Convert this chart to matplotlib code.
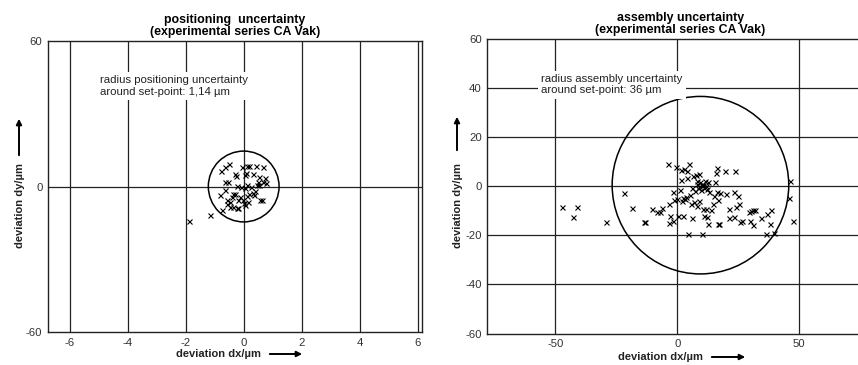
import matplotlib
matplotlib.use("Agg")
from matplotlib import pyplot as plt
from matplotlib.patches import Ellipse, Circle, FancyArrowPatch

plt.rcParams['font.family'] = ['Liberation Sans', 'DejaVu Sans']
plt.rcParams['axes.unicode_minus'] = False

# left panel: positioning uncertainty
pos_dx = [-1.87, -1.16, -0.78, -0.74, -0.82, -0.63, -0.52, -0.63, -0.54, -0.63,
          -0.59, -0.59, -0.47, -0.41, -0.38, -0.36, -0.30, -0.26, -0.22, -0.18,
          -0.18, -0.13, -0.09, -0.05, -0.01, 0.02, 0.05, 0.05, 0.08, 0.10,
          0.13, 0.16, 0.17, 0.20, 0.25, 0.31, 0.33, 0.40, 0.41, 0.47,
          0.51, 0.54, 0.54, 0.56, 0.62, 0.66, 0.68, 0.74, 0.77, -0.30,
          -0.47, -0.22, 0.05, 0.10, 0.36]
pos_dy = [-14.3, -11.8, 6.5, -9.8, -3.6, 8.1, 9.1, 1.9, 1.9, -1.5,
          -5.4, -7.3, -6.3, -4.5, -8.4, -2.9, 5.1, 4.4, 0.4, -5.4,
          -8.7, -4.3, -0.1, 8.1, -5.6, -7.0, -7.7, 4.7, 5.4, 8.5,
          0.6, -6.3, 8.5, -2.9, -0.4, 5.1, -2.6, -1.9, 8.5, 0.6,
          1.9, 4.0, 0.8, -5.4, -5.6, 8.1, 1.9, 3.3, 1.5, -2.9,
          -8.4, -8.8, -0.8, -4.0, -3.6]
pos_radius = (1.22, 14.6)   # drawn circle, in x / y axis units

# right panel: assembly uncertainty
asm_dx = [-47.4, -42.9, -41.3, -29.4, -21.9, -18.7, -13.8, -13.1, -10.2, -8.2,
          -7.1, -6.4, -3.7, -3.3, -3.0, -3.6, -1.9, -1.6, -1.2, -0.5,
          0.0, 0.4, 1.1, 1.4, 1.4, 2.0, 2.5, 2.7, 3.0, 3.8,
          4.1, 4.4, 4.8, 5.3, 5.6, 5.9, 6.6, 6.8, 7.4, 7.7,
          7.9, 7.9, 8.3, 8.7, 8.9, 9.3, 9.6, 10.0, 10.2, 10.4,
          10.7, 10.9, 11.3, 11.6, 11.7, 12.2, 12.4, 12.7, 13.1, 13.8,
          14.5, 14.9, 15.6, 15.7, 16.1, 16.1, 16.5, 16.9, 17.2, 17.5,
          19.5, 19.8, 21.4, 21.4, 23.2, 23.4, 23.6, 23.9, 25.0, 25.4,
          25.7, 26.4, 29.4, 29.8, 30.2, 30.9, 31.1, 31.8, 34.2, 36.3,
          36.9, 38.0, 38.4, 39.6, 45.8, 46.4, 47.5, 9.0, 10.3, 11.0,
          6.0, 8.0, 12.0, 3.5, 2.2]
asm_dy = [-8.4, -12.6, -8.4, -14.7, -2.7, -9.0, -14.7, -14.7, -9.4, -10.4,
          -10.6, -9.0, 9.2, -7.1, -11.9, -14.9, -14.0, -2.4, -5.4, 8.1,
          -5.0, -11.9, -1.6, 6.8, 2.7, -6.0, -12.2, 7.1, -5.2, 6.1,
          3.5, -19.4, 9.0, -3.4, -7.1, -12.9, 4.1, -6.4, -1.9, 4.7,
          2.0, -7.9, -0.8, 4.9, -5.8, 1.6, -1.4, 0.7, -19.4, -9.2,
          0.7, -12.2, 2.0, 0.0, -9.2, -12.6, -15.2, 1.6, -2.4, -9.5,
          -7.1, -4.1, 1.6, 5.4, 7.7, -2.4, -15.2, -5.4, -15.2, -2.7,
          6.4, -3.0, -9.2, -12.9, -2.4, -12.5, 6.4, -8.4, -4.1, -7.2,
          -14.7, -14.2, -10.6, -14.0, -10.2, -9.5, -15.6, -9.5, -12.9, -19.4,
          -11.3, -15.5, -9.5, -19.0, -4.7, 2.0, -14.0, 0.3, 1.0, -0.5,
          -0.8, 0.9, -1.0, -4.5, -4.8]
asm_center = (9.5, 0.5)
asm_radius = 36.2

line_col = '#222222'
fs = 8.2

fig = plt.figure(figsize=(8.58, 3.65), dpi=100)
ax1 = fig.add_axes([48/858, 1 - 332/365, 374/858, 291/365])
ax2 = fig.add_axes([487.3/858, 1 - 333.5/365, 1 - 487.3/858, 294.2/365])

# ---- left
ax1.set_xlim(-6.75, 6.15)
ax1.set_ylim(-60, 60)
ax1.set_xticks([-6, -4, -2, 0, 2, 4, 6])
ax1.set_yticks([-60, 0, 60])
for xv in [-6, -4, -2, 0, 2, 4, 6]:
    ax1.axvline(xv, color=line_col, lw=0.9, zorder=1)
ax1.axhline(0, color=line_col, lw=0.9, zorder=1)
ax1.add_patch(Ellipse((0, 0), 2*pos_radius[0], 2*pos_radius[1], fill=False,
                      ec='black', lw=1.1, zorder=3))
ax1.plot(pos_dx, pos_dy, 'x', color='black', ms=3.6, mew=0.8, zorder=4)
ax1.text(-4.97, 45.8, 'radius positioning uncertainty\naround set-point: 1,14 µm',
         fontsize=fs, va='top', ha='left', linespacing=1.15, zorder=5,
         color='#222222', bbox=dict(facecolor='white', edgecolor='none', pad=2.5))
ax1.set_title('positioning  uncertainty\n(experimental series CA Vak)',
              fontsize=8.9, fontweight='bold', pad=4.5, linespacing=1.0)

# ---- right
ax2.set_xlim(-77.9, 74.1)
ax2.set_ylim(-60, 60)
ax2.set_xticks([-50, 0, 50])
ax2.set_yticks([-60, -40, -20, 0, 20, 40, 60])
for xv in [-50, 0, 50]:
    ax2.axvline(xv, color=line_col, lw=0.9, zorder=1)
for yv in [-40, -20, 0, 20, 40]:
    ax2.axhline(yv, color=line_col, lw=0.9, zorder=1)
ax2.add_patch(Circle(asm_center, asm_radius, fill=False, ec='black', lw=1.1, zorder=3))
ax2.plot(asm_dx, asm_dy, 'x', color='black', ms=3.6, mew=0.8, zorder=4)
ax2.text(-55.9, 45.8, 'radius assembly uncertainty\naround set-point: 36 µm',
         fontsize=fs, va='top', ha='left', linespacing=1.15, zorder=5,
         color='#222222', bbox=dict(facecolor='white', edgecolor='none', pad=2.5))
ax2.set_title('assembly uncertainty\n(experimental series CA Vak)',
              fontsize=8.9, fontweight='bold', pad=4.5, linespacing=1.0, x=0.52)
ax2.spines['right'].set_visible(False)

for ax in (ax1, ax2):
    ax.tick_params(length=0, labelsize=fs, pad=4, colors='#333333')
    for s in ax.spines.values():
        s.set_color(line_col)
        s.set_linewidth(1.0)

# axis labels with arrows
lab = dict(fontsize=8.0, fontweight='bold', color='#222222')
fig.text(218/858, 1 - 354/365, 'deviation dx/µm', ha='center', va='center', **lab)
fig.text(661/858, 1 - 357/365, 'deviation dx/µm', ha='center', va='center', **lab)
fig.text(20/858, 1 - 205/365, 'deviation dy/µm', ha='center', va='center', rotation=90, **lab)
fig.text(458/858, 1 - 205/365, 'deviation dy/µm', ha='center', va='center', rotation=90, **lab)
arrow = dict(arrowstyle='-|>', color='black', lw=1.4, mutation_scale=8)
for (x0, y0, x1, y1) in [(267, 354, 305, 354), (709, 357, 748, 357),
                         (19, 158, 19, 116), (457, 153, 457, 114)]:
    fig.add_artist(FancyArrowPatch((x0/858, 1 - y0/365), (x1/858, 1 - y1/365),
                                   transform=fig.transFigure, **arrow))

fig.savefig('out.png', dpi=100)
